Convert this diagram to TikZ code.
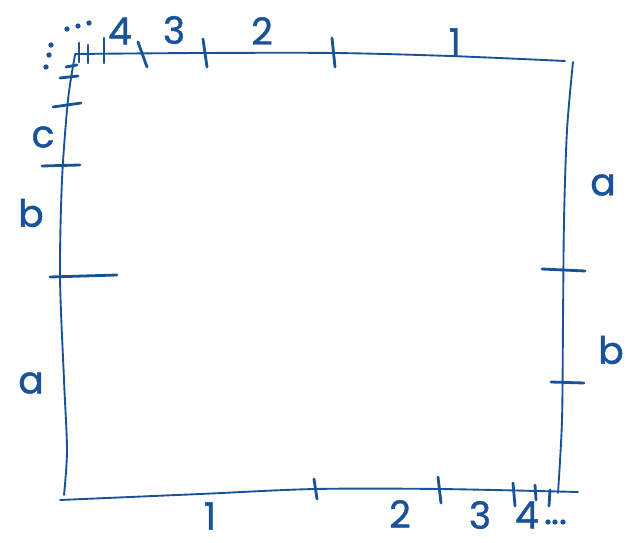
\documentclass[tikz,border=0pt]{standalone}
\usepackage{fontspec}
\setmainfont{Poppins}
\newfontfamily\hand[FakeBold=1.2]{Poppins}
\usepackage{tikz}
\definecolor{pen}{RGB}{24,82,152}

\begin{document}
\begin{tikzpicture}[
  x=0.03cm, y=-0.03cm,
  edge/.style={pen, line width=1.6pt, line cap=round, line join=round},
  tick/.style={pen, line width=2.4pt, line cap=round},
  lbl/.style={text=pen, font=\hand\fontsize{32}{36}\selectfont, inner sep=0pt},
  dot/.style={circle, fill=pen, inner sep=0pt, minimum size=4.5pt}
]
\useasboundingbox (0,0) rectangle (627,543);

% the four sides
\draw[edge] plot[smooth] coordinates {(75,54) (200,53) (335,53) (450,56) (565,61)};
\draw[edge] plot[smooth] coordinates {(75,55) (68,100) (62,180) (60,277) (64,380) (67,450) (64,495)};
\draw[edge] plot[smooth] coordinates {(573,62) (567,130) (564,220) (563,320) (562,420) (558,493)};
\draw[edge] plot[smooth] coordinates {(60,500) (200,494) (315,489) (440,489) (578,492)};

% ticks on top
\draw[tick] (332,38) -- (335,67);
\draw[tick] (203,39) -- (207,67);
\draw[tick] (138,42) -- (147,67);
\draw[tick] (104,38) -- (104,63);
\draw[tick] (88,45) -- (88,63);
\draw[tick] (79,43) -- (79,62);

% ticks on left
\draw[tick] (66,67) -- (77,65);
\draw[tick] (60,78) -- (78,76);
\draw[tick] (53,107) -- (81,103);
\draw[tick] (42,166) -- (80,165);
\draw[tick] (50,277) -- (117,275);

% ticks on right
\draw[tick] (542,269) -- (585,271);
\draw[tick] (551,382) -- (584,383);

% ticks on bottom
\draw[tick] (314,479) -- (317,499);
\draw[tick] (438,477) -- (441,503);
\draw[tick] (513,483) -- (515,506);
\draw[tick] (535,485) -- (536,500);
\draw[tick] (550,490) -- (549,506);

% dots
\node[dot] (dt1) at (67,29) {};
\node[dot] (dt2) at (78,26) {};
\node[dot] (dt3) at (89,23) {};
\node[dot] (dl1) at (51,45) {};
\node[dot] (dl2) at (49,55) {};
\node[dot] (dl3) at (46,67) {};
\node[dot] (db1) at (548,522) {};
\node[dot] (db2) at (555,522) {};
\node[dot] (db3) at (563,522) {};

% labels
\node[lbl] (top4) at (120,31) {4};
\node[lbl] (top3) at (174,30) {3};
\node[lbl] (top2) at (262,31) {2};
\node[lbl] (top1) at (455,42) {1};
\node[lbl] (bot1) at (210,516) {1};
\node[lbl] (bot2) at (400,514) {2};
\node[lbl] (bot3) at (480,515) {3};
\node[lbl] (bot4) at (527,515) {4};
\node[lbl] (lc) at (43,137) {c};
\node[lbl] (lb) at (31,213) {b};
\node[lbl] (la) at (31,383) {a};
\node[lbl] (ra) at (603,185) {a};
\node[lbl] (rb) at (611,350) {b};
\end{tikzpicture}
\end{document}
